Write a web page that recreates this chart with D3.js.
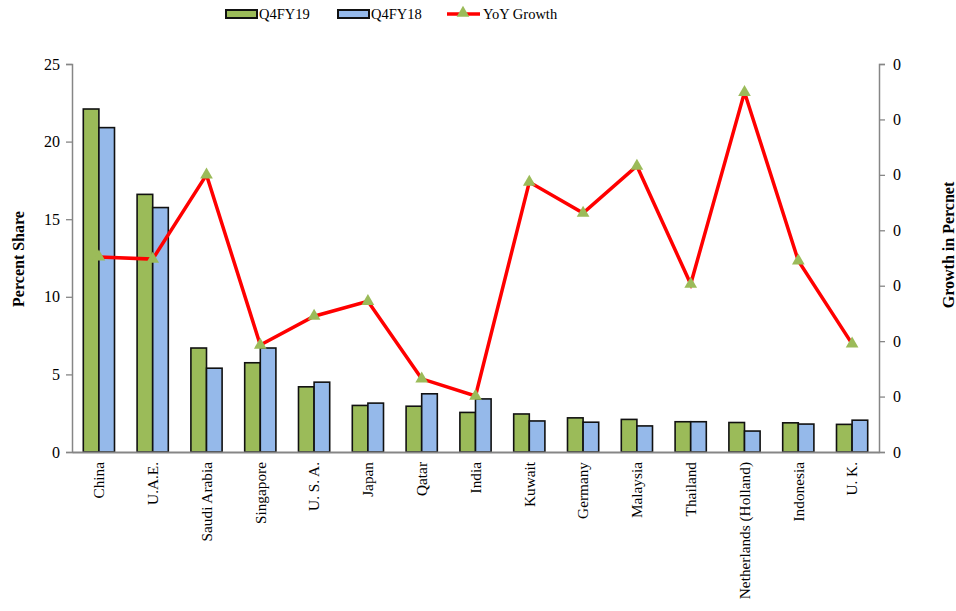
<!DOCTYPE html>
<html>
<head>
<meta charset="utf-8">
<script src="https://cdn.jsdelivr.net/npm/d3@7"></script>
<style>
html,body{margin:0;padding:0;background:#fff;}
text{font-family:"Liberation Serif","Times New Roman",serif;}
</style>
</head>
<body>
<svg id="chart" width="956" height="611"></svg>
<script>
const categories = ["China","U.A.E.","Saudi Arabia","Singapore","U. S. A.","Japan","Qatar","India","Kuwait","Germany","Malaysia","Thailand","Netherlands (Holland)","Indonesia","U. K."];
const q4fy19 = [22.1,16.6,6.7,5.75,4.2,3.0,2.95,2.55,2.45,2.2,2.1,1.95,1.9,1.88,1.78];
const q4fy18 = [20.9,15.75,5.4,6.7,4.5,3.15,3.75,3.42,2.0,1.92,1.68,1.95,1.35,1.8,2.05];
const yoyGrowth = [0.352,0.348,0.500,0.193,0.245,0.272,0.132,0.101,0.487,0.431,0.516,0.303,0.649,0.345,0.195];
const leftTicks = [0,5,10,15,20,25];
const rightTicks = [0,0.1,0.2,0.3,0.4,0.5,0.6,0.7];

const svg = d3.select("#chart");
const L = 72, R = 879, T = 64, B = 452;
const x = d3.scaleBand().domain(categories).range([L, R]).padding(0);
const yL = d3.scaleLinear().domain([0, 25]).range([B, T]);
const yR = d3.scaleLinear().domain([0, 0.7]).range([B, T]);
const bw = x.bandwidth() * 0.29;
const green = "#9BBB59", blue = "#95B9EA", axisCol = "#868686";

// bars
const g = svg.append("g");
g.selectAll("rect.g19").data(categories).join("rect")
  .attr("x", d => x(d) + x.bandwidth()/2 - bw)
  .attr("y", (d,i) => yL(q4fy19[i]))
  .attr("width", bw)
  .attr("height", (d,i) => B - yL(q4fy19[i]))
  .attr("fill", green).attr("stroke", "#111").attr("stroke-width", 1.6);
g.selectAll("rect.g18").data(categories).join("rect")
  .attr("x", d => x(d) + x.bandwidth()/2)
  .attr("y", (d,i) => yL(q4fy18[i]))
  .attr("width", bw)
  .attr("height", (d,i) => B - yL(q4fy18[i]))
  .attr("fill", blue).attr("stroke", "#111").attr("stroke-width", 1.6);

// axes
const axL = svg.append("g").attr("transform", `translate(${L},0)`)
  .call(d3.axisLeft(yL).tickValues(leftTicks).tickSize(6).tickPadding(6));
const axR = svg.append("g").attr("transform", `translate(${R},0)`)
  .call(d3.axisRight(yR).tickValues(rightTicks).tickFormat(d => d3.format("d")(Math.floor(d))).tickSize(6).tickPadding(8));
[axL, axR].forEach(a => {
  a.select(".domain").attr("stroke", axisCol).attr("stroke-width", 1.5);
  a.selectAll(".tick line").attr("stroke", axisCol).attr("stroke-width", 1.3);
  a.selectAll(".tick text").attr("font-size", 16).attr("fill", "#000")
    .attr("font-family", "Liberation Serif");
});
const axB = svg.append("g").attr("transform", `translate(0,${B})`)
  .call(d3.axisBottom(x).tickSize(0).tickPadding(0));
axB.select(".domain").attr("stroke", axisCol).attr("stroke-width", 1.8);
axB.selectAll(".tick text")
  .attr("font-size", 15.3).attr("fill", "#000").attr("font-family", "Liberation Serif")
  .attr("transform", "rotate(-90)")
  .attr("text-anchor", "end")
  .attr("x", -10).attr("y", 0).attr("dy", "0.35em");

// line
const line = d3.line().x((d,i) => x(categories[i]) + x.bandwidth()/2).y(d => yR(d));
svg.append("path").datum(yoyGrowth).attr("d", line)
  .attr("fill", "none").attr("stroke", "#FF0000").attr("stroke-width", 3.5)
  .attr("stroke-linejoin", "miter");
const tri = d3.symbol().type(d3.symbolTriangle).size(70);
svg.selectAll("path.mk").data(yoyGrowth).join("path")
  .attr("transform", (d,i) => `translate(${x(categories[i]) + x.bandwidth()/2},${yR(d)})`)
  .attr("d", tri).attr("fill", green);

// axis titles
svg.append("text").attr("transform", `translate(24,259) rotate(-90)`)
  .attr("text-anchor", "middle").attr("font-size", 16).attr("font-weight", "bold")
  .text("Percent Share");
svg.append("text").attr("transform", `translate(954,245) rotate(-90)`)
  .attr("text-anchor", "middle").attr("font-size", 16).attr("font-weight", "bold")
  .text("Growth in Percnet");

// legend
const lg = svg.append("g").attr("font-size", 14.5);
lg.append("rect").attr("x", 226).attr("y", 10).attr("width", 31).attr("height", 8)
  .attr("fill", green).attr("stroke", "#111").attr("stroke-width", 2);
lg.append("text").attr("x", 259).attr("y", 19).text("Q4FY19");
lg.append("rect").attr("x", 338).attr("y", 10).attr("width", 31).attr("height", 8)
  .attr("fill", blue).attr("stroke", "#111").attr("stroke-width", 2);
lg.append("text").attr("x", 371).attr("y", 19).text("Q4FY18");
lg.append("line").attr("x1", 447).attr("x2", 480).attr("y1", 14).attr("y2", 14)
  .attr("stroke", "#FF0000").attr("stroke-width", 3.5);
lg.append("path").attr("transform", "translate(463,13)").attr("d", tri).attr("fill", green);
lg.append("text").attr("x", 483).attr("y", 19).text("YoY Growth");
</script>
</body>
</html>
